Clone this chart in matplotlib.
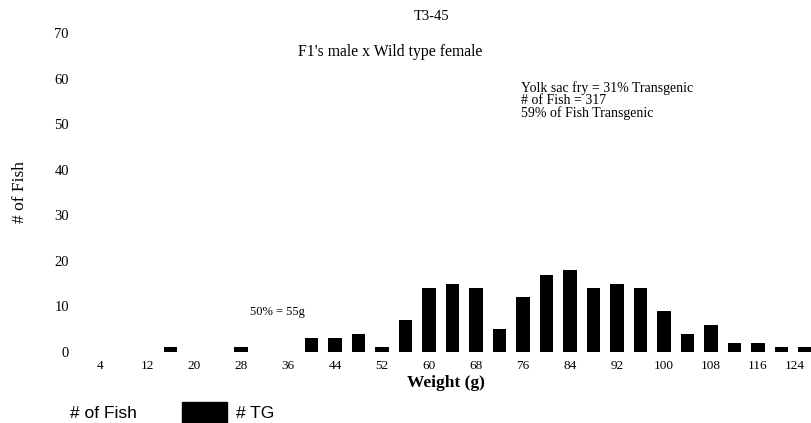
import matplotlib
matplotlib.use("Agg")
import matplotlib.pyplot as plt
from matplotlib.patches import Patch

# Weight bins (g) and counts of transgenic fish per bin
weights = [4, 8, 12, 16, 20, 24, 28, 32, 36, 40, 44, 48, 52, 56, 60, 64,
           68, 72, 76, 80, 84, 88, 92, 96, 100, 104, 108, 112, 116, 120, 124]
tg_counts = [0, 0, 0, 1, 0, 0, 1, 0, 0, 3, 3, 4, 1, 7, 14, 15,
             14, 5, 12, 17, 18, 14, 15, 14, 9, 4, 6, 2, 2, 1, 1]
xtick_labels = [str(w) for w in weights[::2]]
yticks = [0, 10, 20, 30, 40, 50, 60, 70]

title = "T3-45"
subtitle = "F1's male x Wild type female"
summary = "Yolk sac fry = 31% Transgenic\n# of Fish = 317\n59% of Fish Transgenic"
median_note = "50% = 55g"

serif = "Liberation Serif"
sans = "Liberation Sans"

fig = plt.figure(figsize=(8.12, 4.23), dpi=100)
ax = fig.add_axes([80 / 812, 71 / 423, 732 / 812, 319 / 423])

x = list(range(len(weights)))
ax.bar(x, tg_counts, width=0.58, color="black", clip_on=False)

ax.set_xlim(-0.85, 30.3)
ax.set_ylim(0, 70)
ax.set_xticks(x[::2])
ax.set_xticklabels(xtick_labels, fontfamily=serif, fontsize=9.5)
# keep the last weight label inside the figure edge
ax.get_xticklabels()[-1].set_horizontalalignment("right")
ax.set_yticks(yticks)
ax.set_yticklabels([str(v) for v in yticks], fontfamily=serif, fontsize=10.5)
ax.tick_params(axis="both", length=0)
ax.tick_params(axis="x", pad=6)
ax.tick_params(axis="y", pad=8)
for s in ax.spines.values():
    s.set_visible(False)

ax.set_xlabel("Weight (g)", fontfamily=serif, fontsize=12.5,
              fontweight="bold", labelpad=2)
fig.text(20 / 812, 1 - 192 / 423, "# of Fish", rotation=90, ha="center",
         va="center", fontfamily=serif, fontsize=12.5)

fig.text(432 / 812, 1 - 17 / 423, title, ha="center", va="center",
         fontfamily=serif, fontsize=10.5)
fig.text(298 / 812, 1 - 52 / 423, subtitle, ha="left", va="center",
         fontfamily=serif, fontsize=11.3)
fig.text(521 / 812, 1 - 81 / 423, summary, ha="left", va="top",
         fontfamily=serif, fontsize=10, linespacing=0.92)
fig.text(250 / 812, 1 - 312 / 423, median_note, ha="left", va="center",
         fontfamily=serif, fontsize=9)

handles = [Patch(facecolor="white", edgecolor="none", label="# of Fish"),
           Patch(facecolor="black", edgecolor="black", label="# TG")]
fig.legend(handles=handles, loc="lower left", bbox_to_anchor=(16 / 812, 0.0),
           ncol=2, frameon=False, prop={"family": sans, "size": 12.5},
           handlelength=2.6, handleheight=1.5, columnspacing=2.6,
           handletextpad=0.5, borderpad=0.0, borderaxespad=0.0)

fig.savefig("out.png", dpi=100, facecolor="white")
